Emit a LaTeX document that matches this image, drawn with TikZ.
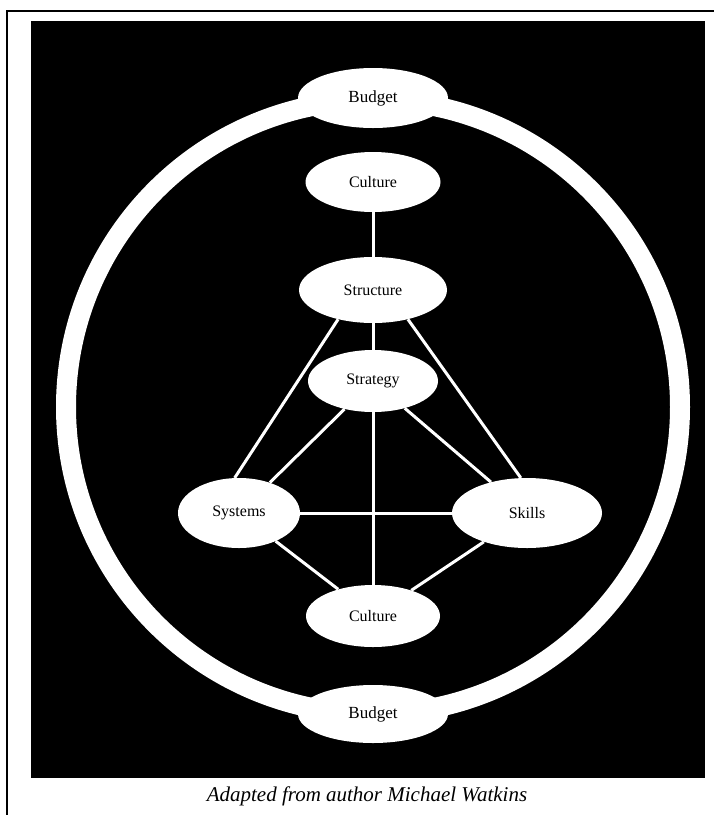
\documentclass[tikz,border=0pt]{standalone}
\usepackage{fontspec}
\setmainfont{Liberation Serif}
\usetikzlibrary{shapes.geometric}
\begin{document}
\begin{tikzpicture}[x=1pt,y=-1pt,
  bubble/.style={ellipse, fill=white, draw=none, inner sep=0pt, text=black,
    font=\fontsize{16}{18}\selectfont},
  link/.style={draw=white, line width=3pt}]
\useasboundingbox (0,0) rectangle (714,815);
% frame
\draw[line width=2.2pt] (714,11) -- (7,11) -- (7,815);
% black panel
\fill[black] (31,21) rectangle (705,778);
% ring
\draw[white, line width=20pt] (373,407) ellipse [x radius=307, y radius=307];
% nodes
\node[bubble, minimum width=150pt, minimum height=60pt, font=\fontsize{17}{19}\selectfont] (budgetT) at (373,98) {Budget};
\node[bubble, minimum width=150pt, minimum height=58pt, font=\fontsize{17}{19}\selectfont] (budgetB) at (373,714) {Budget};
\node[bubble, minimum width=135pt, minimum height=60pt] (cultureT) at (373,182) {Culture};
\node[bubble, minimum width=148pt, minimum height=66pt] (structure) at (373,290) {Structure};
\node[bubble, minimum width=130pt, minimum height=62pt] (strategy) at (373,381) {Strategy};
\node[bubble, minimum width=122pt, minimum height=70pt] (systems) at (239,513) {Systems};
\node[bubble, minimum width=150pt, minimum height=70pt] (skills) at (527,513) {Skills};
\node[bubble, minimum width=134pt, minimum height=62pt] (cultureB) at (373,616) {Culture};
% connectors
\draw[link] (cultureT) -- (structure);
\draw[link] (structure) -- (strategy);
\draw[link] (structure.220) -- (systems.97);
\draw[link] (structure.320) -- (skills.100);
\draw[link] (strategy) -- (systems);
\draw[link] (strategy) -- (skills);
\draw[link] (strategy) -- (cultureB);
\draw[link] (systems) -- (skills);
\draw[link] (systems) -- (cultureB);
\draw[link] (skills) -- (cultureB);
% caption
\node[font=\fontsize{21}{24}\selectfont\itshape, inner sep=0pt] (caption) at (367,796) {Adapted from author Michael Watkins};
\end{tikzpicture}
\end{document}
